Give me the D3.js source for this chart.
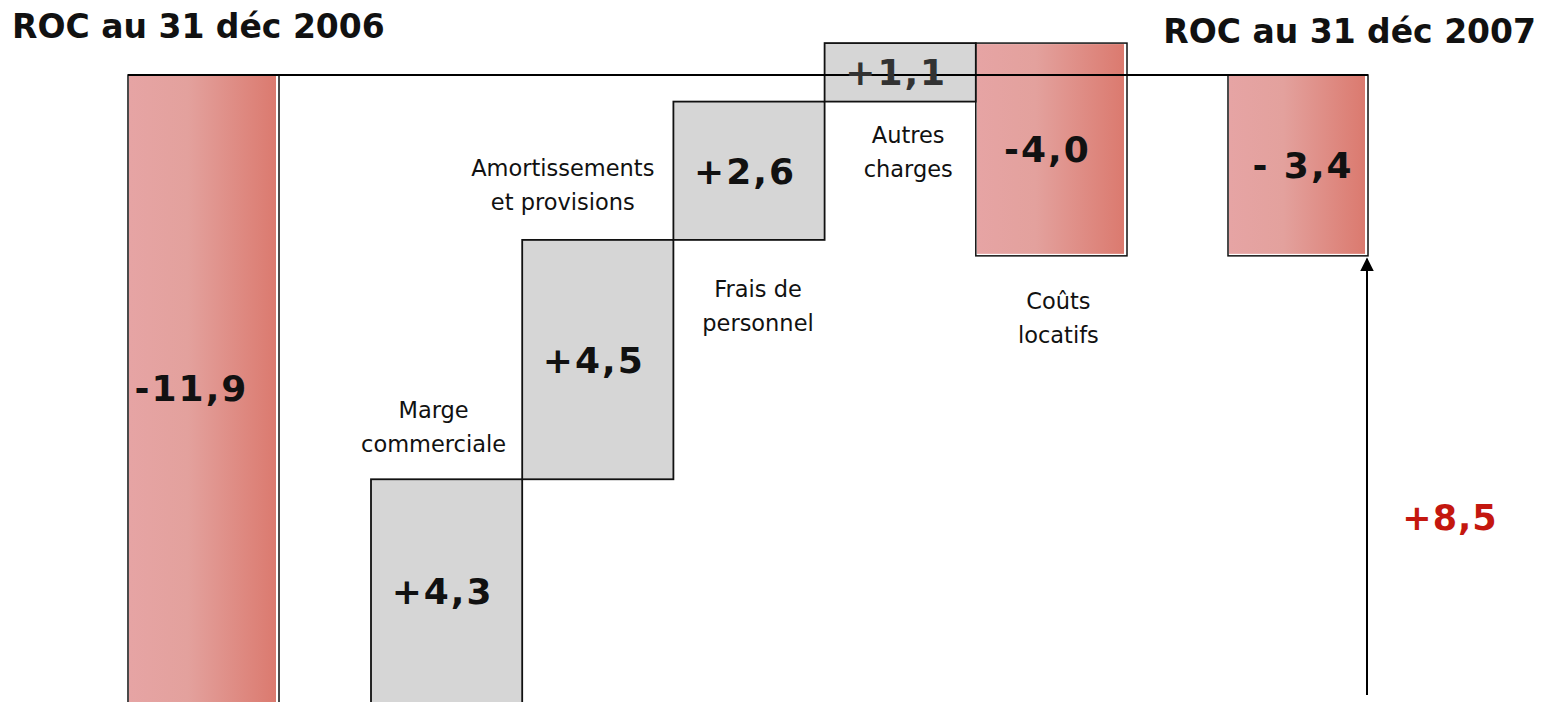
<!DOCTYPE html>
<html>
<head>
<meta charset="utf-8">
<script src="https://cdn.jsdelivr.net/npm/d3@7"></script>
<style>
  body { margin: 0; background: #fff; }
  svg { display: block; }
</style>
</head>
<body>
<div id="chart"></div>
<script>
// values (M€)
const totals = ["ROC au 31 déc 2006", "ROC au 31 déc 2007"];
const totalValues = [-11.9, -3.4];
const totalLabels = ["-11,9", "- 3,4"];

const steps = [["Marge", "commerciale"], ["Amortissements", "et provisions"], ["Frais de", "personnel"], ["Autres", "charges"], ["Coûts", "locatifs"]];
const stepValues = [4.3, 4.5, 2.6, 1.1, -4.0];
const stepLabels = ["+4,3", "+4,5", "+2,6", "+1,1", "-4,0"];

const variationLabel = "+8,5";

const W = 1546, H = 702;
const svg = d3.select("#chart").append("svg").attr("width", W).attr("height", H);

const defs = svg.append("defs");
const grad = defs.append("linearGradient").attr("id", "pink").attr("x1", 0).attr("x2", 1).attr("y1", 0).attr("y2", 0);
grad.append("stop").attr("offset", "0%").attr("stop-color", "#e6a4a4");
grad.append("stop").attr("offset", "40%").attr("stop-color", "#e3a19d");
grad.append("stop").attr("offset", "100%").attr("stop-color", "#db7a6f");
defs.append("marker").attr("id", "arrow").attr("viewBox", "0 0 10 10").attr("refX", 9).attr("refY", 5)
  .attr("markerWidth", 14).attr("markerHeight", 14).attr("orient", "auto-start-reverse").attr("markerUnits", "userSpaceOnUse")
  .append("path").attr("d", "M0,0L10,5L0,10Z").attr("fill", "#000");

const y = d3.scaleLinear().domain([0, totalValues[0]]).range([75, 708]);
const x = d3.scaleBand().domain(d3.range(steps.length)).range([371, 1127]).padding(0);
const totalX = [128, 1228], totalW = [151, 140];
const clipY = v => Math.min(v, H);

// running totals for the waterfall
let cum = totalValues[0];
const bars = stepValues.map((v, i) => {
  const b = { i, from: cum, to: cum + v, v };
  cum += v;
  return b;
});

const pinkBar = (x0, w, v0, v1) => {
  const top = y(Math.max(v0, v1)), bot = y(Math.min(v0, v1));
  svg.append("rect").attr("x", x0 + 1).attr("y", top + 1).attr("width", w - 4).attr("height", bot - top - 3)
    .attr("fill", "url(#pink)");
  svg.append("rect").attr("x", x0).attr("y", top).attr("width", w).attr("height", bot - top)
    .attr("fill", "none").attr("stroke", "#111").attr("stroke-width", 1.5);
};

// totals
pinkBar(totalX[0], totalW[0], 0, totalValues[0]);
pinkBar(totalX[1], totalW[1], 0, totalValues[1]);

// steps
bars.forEach(b => {
  const top = y(Math.max(b.from, b.to)), bot = y(Math.min(b.from, b.to));
  if (b.v >= 0) {
    svg.append("rect").attr("x", x(b.i)).attr("y", top).attr("width", x.bandwidth()).attr("height", bot - top)
      .attr("fill", "#d6d6d6").attr("stroke", "#111").attr("stroke-width", 1.8);
  } else {
    pinkBar(x(b.i), x.bandwidth(), b.from, b.to);
  }
});

// zero line
svg.append("line").attr("x1", totalX[0]).attr("x2", totalX[1] + totalW[1]).attr("y1", y(0)).attr("y2", y(0))
  .attr("stroke", "#000").attr("stroke-width", 2);

// variation arrow
svg.append("line").attr("x1", totalX[1] + totalW[1] - 1).attr("x2", totalX[1] + totalW[1] - 1)
  .attr("y1", 695).attr("y2", y(totalValues[1]) + 3)
  .attr("stroke", "#000").attr("stroke-width", 2).attr("marker-end", "url(#arrow)");
svg.append("text").attr("x", 1450).attr("y", 530).attr("text-anchor", "middle")
  .attr("font-family", "'DejaVu Sans', Verdana, sans-serif").attr("font-weight", "bold").attr("font-size", 35)
  .attr("letter-spacing", 1).attr("fill", "#c4170f").text(variationLabel);

// value labels
const valueFont = "'DejaVu Sans', Verdana, sans-serif";
const valueText = (cx, cy, t, col) => svg.append("text").attr("x", cx).attr("y", cy).attr("dy", "0.36em")
  .attr("text-anchor", "middle").attr("font-family", valueFont).attr("font-weight", "bold")
  .attr("font-size", 36).attr("letter-spacing", 2).attr("fill", col || "#111").text(t);

valueText(totalX[0] + totalW[0] / 2 - 12, (y(0) + clipY(y(totalValues[0]))) / 2, totalLabels[0]);
valueText(totalX[1] + totalW[1] / 2 + 5, (y(0) + y(totalValues[1])) / 2, totalLabels[1]);
bars.forEach(b => {
  const top = y(Math.max(b.from, b.to)), bot = clipY(y(Math.min(b.from, b.to)));
  valueText(x(b.i) + x.bandwidth() / 2 - 4, (top + bot) / 2, stepLabels[b.i], b.i === 3 ? "#333" : "#111");
});

// category labels: above the bar for the first two, below for the others
const place = ["above", "above", "below", "below", "below"];
const gap = [27, 30, 57, 41, 53];
const dx = [-13, -35, 9, 8, 7];
const lineH = 34;
bars.forEach(b => {
  const top = y(Math.max(b.from, b.to)), bot = y(Math.min(b.from, b.to));
  const lines = steps[b.i];
  const first = place[b.i] === "above" ? top - gap[b.i] - lineH * (lines.length - 1) : bot + gap[b.i];
  const t = svg.append("text").attr("text-anchor", "middle")
    .attr("font-family", "'DejaVu Sans', Verdana, sans-serif").attr("font-size", 22.5).attr("fill", "#111");
  lines.forEach((l, k) => t.append("tspan").attr("x", x(b.i) + x.bandwidth() / 2 + dx[b.i]).attr("y", first + k * lineH).text(l));
});

// titles
svg.append("text").attr("x", 12).attr("y", 38).attr("font-family", valueFont).attr("font-weight", "bold")
  .attr("font-size", 33).attr("fill", "#111").text(totals[0]);
svg.append("text").attr("x", 1536).attr("y", 43).attr("text-anchor", "end").attr("font-family", valueFont)
  .attr("font-weight", "bold").attr("font-size", 33).attr("fill", "#111").text(totals[1]);
</script>
</body>
</html>
